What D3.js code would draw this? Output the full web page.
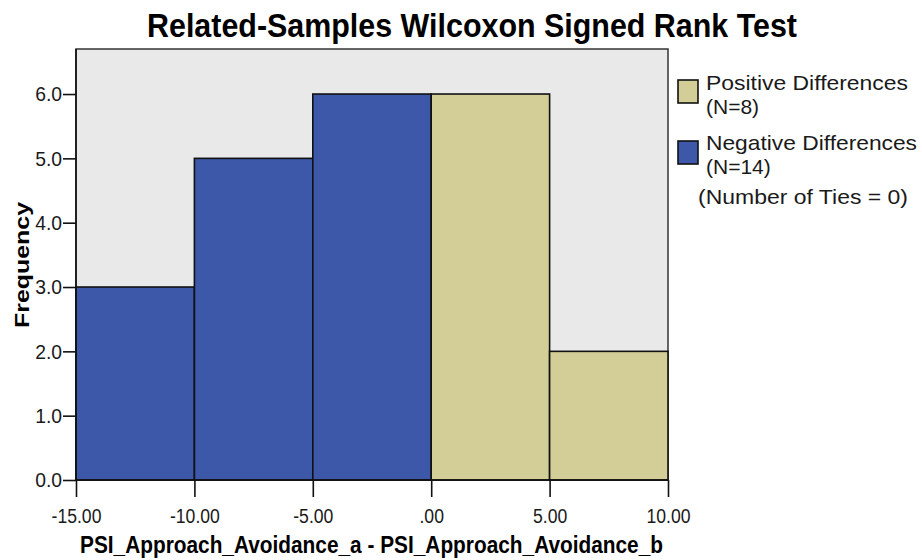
<!DOCTYPE html>
<html>
<head>
<meta charset="utf-8">
<script src="https://cdn.jsdelivr.net/npm/d3@7"></script>
<style>
	body { margin: 0; background: #ffffff; }
	svg { display: block; font-family: "Liberation Sans", Arial, sans-serif; }
</style>
</head>
<body>
<div id="chart"></div>
<script>

// histogram bins of the differences
var binStart = [-15, -10, -5, 0, 5];
var binEnd = [-10, -5, 0, 5, 10];
var binCount = [3, 5, 6, 6, 2];
var binSign = ["neg", "neg", "neg", "pos", "pos"];

var xTicks = [-15, -10, -5, 0, 5, 10];
var yTicks = [0, 1, 2, 3, 4, 5, 6];

var legendLabels = [["Positive Differences", "(N=8)"], ["Negative Differences", "(N=14)"]];
var tiesLabel = "(Number of Ties = 0)";

var colors = { pos: "#d3cd98", neg: "#3d57a9" };

var width = 922, height = 560;
var plotLeft = 76, plotRight = 668, plotTop = 49, plotBottom = 480;

var svg = d3.select("#chart").append("svg")
	.attr("width", width)
	.attr("height", height);

var xscale = d3.scaleLinear()
	.domain([-15, 10])
	.range([plotLeft, plotRight]);

var yscale = d3.scaleLinear()
	.domain([0, 6.7])
	.range([plotBottom, plotTop]);

var fmt2 = d3.formatLocale({ decimal: ".", thousands: ",", grouping: [3], currency: ["", ""], minus: "-" }).format(".2f");

// squeeze text horizontally, the spss picture is a bit narrow
function squeeze(sel, k) {
	sel.each(function () {
		d3.select(this)
			.attr("textLength", this.getComputedTextLength() * k)
			.attr("lengthAdjust", "spacingAndGlyphs");
	});
}

// plot background and frame
svg.append("rect")
	.attr("x", plotLeft)
	.attr("y", plotTop)
	.attr("width", plotRight - plotLeft)
	.attr("height", plotBottom - plotTop)
	.attr("fill", "#e9e9e9")
	.attr("stroke", "#333")
	.attr("stroke-width", 1.5);

// bars
svg.selectAll("rect.bar")
	.data(binCount)
	.enter()
	.append("rect")
	.attr("class", "bar")
	.attr("x", function (d, i) { return xscale(binStart[i]); })
	.attr("y", function (d) { return yscale(d); })
	.attr("width", function (d, i) { return xscale(binEnd[i]) - xscale(binStart[i]); })
	.attr("height", function (d) { return plotBottom - yscale(d); })
	.attr("fill", function (d, i) { return colors[binSign[i]]; })
	.attr("stroke", "#111")
	.attr("stroke-width", 1.6);

// axes
var yAxis = svg.append("g")
	.attr("transform", "translate(" + plotLeft + ",0)")
	.call(d3.axisLeft(yscale)
		.tickValues(yTicks)
		.tickSize(13)
		.tickPadding(1)
		.tickFormat(d3.format(".1f")));

var xAxis = svg.append("g")
	.attr("transform", "translate(0," + plotBottom + ")")
	.call(d3.axisBottom(xscale)
		.tickValues(xTicks)
		.tickSize(17)
		.tickPadding(12)
		.tickFormat(function (d) { return d === 0 ? ".00" : fmt2(d); }));

yAxis.selectAll("text")
	.attr("font-size", "21px")
	.attr("font-family", "Liberation Sans, Arial, sans-serif")
	.attr("fill", "#1a1a1a")
	.call(squeeze, 0.92);
xAxis.selectAll("text")
	.attr("font-size", "20px")
	.attr("font-family", "Liberation Sans, Arial, sans-serif")
	.attr("fill", "#1a1a1a")
	.call(squeeze, 0.88);
svg.selectAll(".domain, .tick line")
	.attr("stroke", "#111")
	.attr("stroke-width", 1.6);
yAxis.select(".domain").attr("d", "M0," + plotBottom + "V" + plotTop);
xAxis.select(".domain").attr("d", "M" + plotLeft + ",0H" + plotRight);

// titles
svg.append("text")
	.attr("x", 147)
	.attr("y", 37)
	.attr("font-size", "33px")
	.attr("font-weight", "bold")
	.attr("textLength", 650)
	.attr("lengthAdjust", "spacingAndGlyphs")
	.text("Related-Samples Wilcoxon Signed Rank Test");

svg.append("text")
	.attr("x", 80)
	.attr("y", 553)
	.attr("font-size", "23px")
	.attr("font-weight", "bold")
	.attr("textLength", 583)
	.attr("lengthAdjust", "spacingAndGlyphs")
	.text("PSI_Approach_Avoidance_a - PSI_Approach_Avoidance_b");

svg.append("text")
	.attr("transform", "translate(29,265) rotate(-90)")
	.attr("text-anchor", "middle")
	.attr("font-size", "21px")
	.attr("font-weight", "bold")
	.attr("textLength", 126)
	.attr("lengthAdjust", "spacingAndGlyphs")
	.text("Frequency");

// legend
var legendTop = [80, 141];
var legendBase = [90, 150];
var legendKeys = ["pos", "neg"];
var legendWidth = [202, 211];

var legend = svg.selectAll("g.legend")
	.data(legendLabels)
	.enter()
	.append("g")
	.attr("class", "legend");

legend.append("rect")
	.attr("x", 678)
	.attr("y", function (d, i) { return legendTop[i]; })
	.attr("width", 20)
	.attr("height", 23)
	.attr("fill", function (d, i) { return colors[legendKeys[i]]; })
	.attr("stroke", "#111")
	.attr("stroke-width", 1.6);

legend.append("text")
	.attr("x", 706)
	.attr("y", function (d, i) { return legendBase[i]; })
	.attr("font-size", "21px")
	.attr("textLength", function (d, i) { return legendWidth[i]; })
	.attr("lengthAdjust", "spacingAndGlyphs")
	.attr("fill", "#1a1a1a")
	.text(function (d) { return d[0]; });

legend.append("text")
	.attr("x", 706)
	.attr("y", function (d, i) { return legendBase[i] + 24; })
	.attr("font-size", "21px")
	.attr("fill", "#1a1a1a")
	.text(function (d) { return d[1]; });

svg.append("text")
	.attr("x", 698)
	.attr("y", 204)
	.attr("font-size", "21px")
	.attr("textLength", 210)
	.attr("lengthAdjust", "spacingAndGlyphs")
	.attr("fill", "#1a1a1a")
	.text(tiesLabel);

</script>
</body>
</html>
